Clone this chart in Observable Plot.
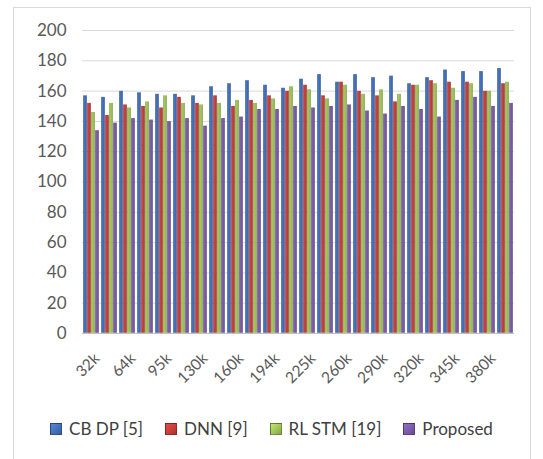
<!DOCTYPE html>
<html>
<head>
<meta charset="utf-8">
<script src="https://cdn.jsdelivr.net/npm/d3@7"></script>
<script src="https://cdn.jsdelivr.net/npm/@observablehq/plot@0.6"></script>
<style>
  body { margin: 0; background: #fff; font-family: Lato, "Open Sans", sans-serif; }
  #wrap { position: relative; width: 543px; height: 459px; overflow: hidden; }
  #frame { position: absolute; left: 13px; top: 7px; width: 518px; height: 470px; border: 1px solid #d9d9d9; box-sizing: border-box; }
  #chart { position: absolute; left: 0; top: 0; }
  #legend { position: absolute; top: 418px; left: 0; width: 543px; display: flex; justify-content: center; gap: 22px; font-size: 17px; color: #404040; }
  #legend .item { display: flex; align-items: center; gap: 7px; }
  #legend .sw { width: 10px; height: 10px; border: 1px solid rgba(0,0,0,0.35); }
</style>
</head>
<body>
<div id="wrap">
  <div id="frame"></div>
  <div id="chart"></div>
  <div id="legend"></div>
</div>
<script>
// Axis labels (every other category carries a label)
const tickLabels = ["32k", "64k", "95k", "130k", "160k", "194k", "225k", "260k", "290k", "320k", "345k", "380k"];
const seriesNames = ["CB DP [5]", "DNN [9]", "RL STM [19]", "Proposed"];
const seriesColors = ["#3F69AE", "#BA3A37", "#94B851", "#74569F"];
const yTicks = [0, 20, 40, 60, 80, 100, 120, 140, 160, 180, 200];

// Series values, one per category
const cbdp     = [157, 156, 160, 159, 158, 158, 157, 163, 165, 167, 164, 162, 168, 171, 166, 171, 169, 170, 165, 169, 174, 173, 173, 175];
const dnn      = [152, 144, 151, 150, 149, 156, 152, 157, 150, 154, 157, 160, 164, 157, 166, 160, 157, 153, 164, 167, 166, 166, 160, 165];
const rlstm    = [146, 152, 149, 153, 157, 152, 151, 152, 154, 152, 155, 163, 161, 155, 164, 158, 161, 158, 164, 165, 162, 165, 160, 166];
const proposed = [134, 139, 142, 141, 140, 142, 137, 142, 143, 148, 148, 150, 149, 150, 151, 147, 145, 150, 148, 143, 154, 156, 150, 152];

const seriesValues = [cbdp, dnn, rlstm, proposed];
const categories = d3.range(cbdp.length);

const rows = [];
seriesValues.forEach((vals, s) => {
  vals.forEach((v, i) => rows.push({cat: i, series: seriesNames[s], value: v}));
});
const labelRows = categories.filter(i => i % 2 === 0).map(i => ({cat: i, label: tickLabels[i / 2]}));

const chart = Plot.plot({
  width: 543,
  height: 400,
  marginTop: 30,
  marginBottom: 67,
  marginLeft: 78,
  marginRight: 25,
  style: {fontFamily: "Lato, 'Open Sans', sans-serif", fontSize: "17px", color: "#595959", background: "transparent"},
  fx: {domain: categories, padding: 0, axis: null},
  x: {domain: seriesNames, axis: null, paddingInner: 0, paddingOuter: 0.07},
  y: {domain: [0, 200], ticks: yTicks, tickSize: 0, tickPadding: 16, label: null},
  marks: [
    Plot.ruleY(yTicks.slice(1), {stroke: "#d9d9d9"}),
    ...seriesNames.map((name, s) =>
      Plot.barY(rows.filter(d => d.series === name), {
        fx: "cat", x: "series", y: "value",
        fill: `url(#bar-grad-${s})`, inset: 0.2
      })
    ),
    Plot.ruleY([0], {stroke: "#bfbfbf"}),
    Plot.text(labelRows, {
      fx: "cat", text: "label", frameAnchor: "bottom",
      rotate: -45, textAnchor: "end", dx: 9, dy: 26,
      fontSize: 15.5, fill: "#595959"
    })
  ]
});

// Cylinder-like shading for each series
const defs = d3.select(chart).insert("defs", ":first-child");
seriesColors.forEach((c, s) => {
  const base = d3.color(c);
  const g = defs.append("linearGradient").attr("id", `bar-grad-${s}`).attr("x1", 0).attr("x2", 1).attr("y1", 0).attr("y2", 0);
  g.append("stop").attr("offset", "0%").attr("stop-color", base.darker(0.4));
  g.append("stop").attr("offset", "45%").attr("stop-color", base.brighter(0.35));
  g.append("stop").attr("offset", "100%").attr("stop-color", base.darker(0.5));
});

document.getElementById("chart").appendChild(chart);

const legend = d3.select("#legend");
seriesNames.forEach((name, s) => {
  const item = legend.append("div").attr("class", "item");
  const c = d3.color(seriesColors[s]);
  item.append("div").attr("class", "sw")
    .style("background", `linear-gradient(135deg, ${c.brighter(0.7)}, ${c.darker(0.3)})`);
  item.append("span").text(name);
});
</script>
</body>
</html>
